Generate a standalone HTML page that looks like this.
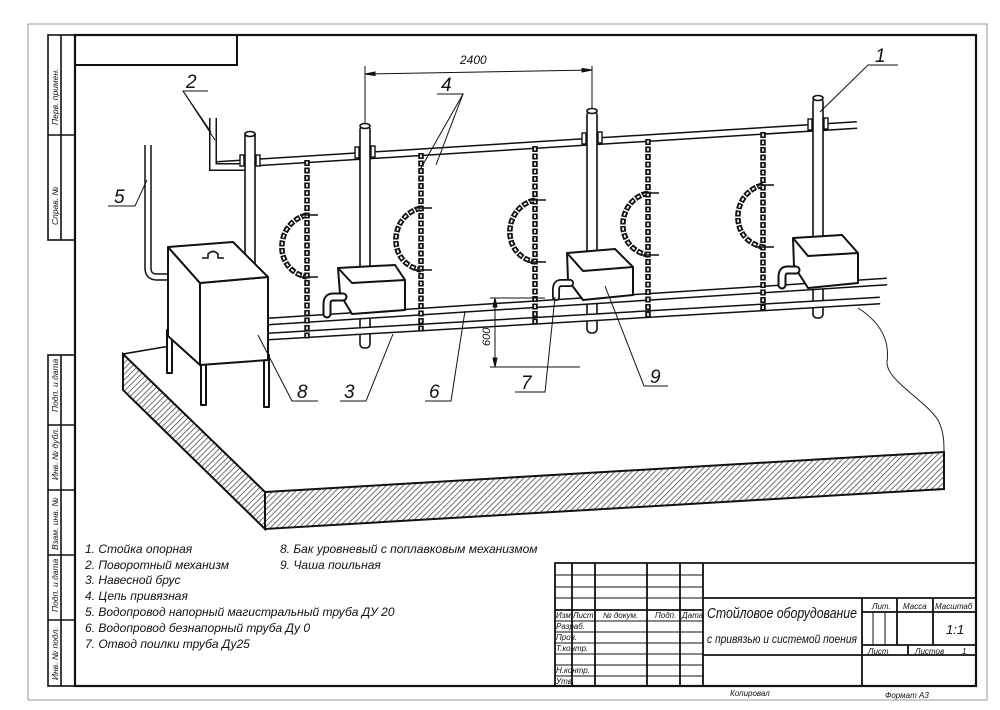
<!DOCTYPE html>
<html><head><meta charset="utf-8"><style>
html,body{margin:0;padding:0;background:#fff}
svg{display:block}
text{font-family:"Liberation Sans","DejaVu Sans",sans-serif;font-style:italic;fill:#111}
</style></head><body>
<svg width="1000" height="710" viewBox="0 0 1000 710" xmlns="http://www.w3.org/2000/svg">
<defs>
<pattern id="h" width="4" height="4" patternUnits="userSpaceOnUse" patternTransform="rotate(45)">
<rect width="4" height="4" fill="#fff"/><line x1="0" y1="0" x2="0" y2="4" stroke="#444" stroke-width="1.5"/>
</pattern>
</defs>
<rect x="0" y="0" width="1000" height="710" fill="#fff"/>
<rect x="28" y="24" width="959" height="676" fill="none" stroke="#999" stroke-width="1"/>
<rect x="75" y="35" width="901" height="651" fill="none" stroke="#111" stroke-width="2.2"/>
<polyline points="75,65 237,65 237,35" fill="none" stroke="#111" stroke-width="2"/>
<g stroke="#111" stroke-width="1.6" fill="none">
<rect x="48" y="35" width="27" height="205"/>
<line x1="61" y1="35" x2="61" y2="240"/>
<line x1="48" y1="135" x2="75" y2="135"/>
<rect x="48" y="355" width="27" height="331"/>
<line x1="61" y1="355" x2="61" y2="686"/>
<line x1="48" y1="425" x2="75" y2="425"/>
<line x1="48" y1="490" x2="75" y2="490"/>
<line x1="48" y1="555" x2="75" y2="555"/>
<line x1="48" y1="620" x2="75" y2="620"/>
</g>
<g font-size="8.5">
<text transform="translate(58,125) rotate(-90)">Перв. примен.</text>
<text transform="translate(58,225) rotate(-90)">Справ. №</text>
<text transform="translate(58,412) rotate(-90)">Подп. и дата</text>
<text transform="translate(58,480) rotate(-90)">Инв. № дубл.</text>
<text transform="translate(58,550) rotate(-90)">Взам. инв. №</text>
<text transform="translate(58,612) rotate(-90)">Подп. и дата</text>
<text transform="translate(58,680) rotate(-90)">Инв. № подл.</text>
</g>

<polygon points="123,354 123,390 265,529 265,492" fill="url(#h)" stroke="#111" stroke-width="2"/>
<polygon points="265,492 944,452 944,489 265,529" fill="url(#h)" stroke="#111" stroke-width="2"/>
<polyline points="123,354 170,346" fill="none" stroke="#111" stroke-width="1.6"/>
<line x1="123" y1="354" x2="265" y2="492" stroke="#111" stroke-width="1.6"/>
<path d="M858,308 C880,322 890,340 887,362 C886,380 925,400 938,420 C944,432 944,442 944,452" fill="none" stroke="#222" stroke-width="1"/>

<line x1="213" y1="165.2" x2="857" y2="125" stroke="#111" stroke-width="8"/>
<line x1="213" y1="165.2" x2="857" y2="125" stroke="#fff" stroke-width="5"/>
<path d="M148,145 V268 Q148,277 157,277 H180" fill="none" stroke="#111" stroke-width="7.5"/>
<path d="M148,145 V268 Q148,277 157,277 H180" fill="none" stroke="#fff" stroke-width="4.5"/>
<path d="M213,118 V167 H248" fill="none" stroke="#111" stroke-width="8"/>
<path d="M213,118 V167 H248" fill="none" stroke="#fff" stroke-width="5"/>

<g stroke="#111" stroke-width="1.6" fill="#fff">
<rect x="245" y="134" width="10" height="130"/><ellipse cx="250" cy="134" rx="5" ry="2.5"/>
<rect x="360" y="126" width="10" height="222" rx="4"/><ellipse cx="365" cy="126" rx="5" ry="2.5"/>
<rect x="587" y="111" width="10" height="222" rx="4"/><ellipse cx="592" cy="111" rx="5" ry="2.5"/>
<rect x="813" y="98" width="10" height="220" rx="4"/><ellipse cx="818" cy="98" rx="5" ry="2.5"/>
</g>
<g stroke="#111" stroke-width="1.4" fill="#fff">
<rect x="240" y="155" width="4" height="11"/><rect x="256" y="155" width="4" height="11"/>
<rect x="355" y="147" width="4" height="11"/><rect x="371" y="146" width="4" height="11"/>
<rect x="582" y="133" width="4" height="11"/><rect x="598" y="132" width="4" height="11"/>
<rect x="808" y="119" width="4" height="11"/><rect x="824" y="118" width="4" height="11"/>
</g>

<line x1="268" y1="321.5" x2="887" y2="281.5" stroke="#111" stroke-width="8"/>
<line x1="268" y1="321.5" x2="887" y2="281.5" stroke="#fff" stroke-width="5"/>
<line x1="268" y1="336.5" x2="880" y2="300.5" stroke="#111" stroke-width="8"/>
<line x1="268" y1="336.5" x2="880" y2="300.5" stroke="#fff" stroke-width="5"/>

<g fill="none">
<g stroke="#111" stroke-width="5.5" stroke-dasharray="6 1.5">
<line x1="307" y1="160" x2="307" y2="339"/>
<line x1="421" y1="153" x2="421" y2="332"/>
<line x1="535" y1="146" x2="535" y2="325"/>
<line x1="648" y1="139" x2="648" y2="318"/>
<line x1="763" y1="132" x2="763" y2="312"/>
<path d="M307,215 C275,222 272,270 307,277"/>
<path d="M421,208 C389,215 386,263 421,270"/>
<path d="M535,200 C503,207 500,255 535,262"/>
<path d="M648,193 C616,200 613,248 648,255"/>
<path d="M763,185 C731,192 728,240 763,247"/>
</g>
<g stroke="#fff" stroke-width="1.7" stroke-dasharray="3 4.5" stroke-dashoffset="-1.5">
<line x1="307" y1="160" x2="307" y2="339"/>
<line x1="421" y1="153" x2="421" y2="332"/>
<line x1="535" y1="146" x2="535" y2="325"/>
<line x1="648" y1="139" x2="648" y2="318"/>
<line x1="763" y1="132" x2="763" y2="312"/>
<path d="M307,215 C275,222 272,270 307,277"/>
<path d="M421,208 C389,215 386,263 421,270"/>
<path d="M535,200 C503,207 500,255 535,262"/>
<path d="M648,193 C616,200 613,248 648,255"/>
<path d="M763,185 C731,192 728,240 763,247"/>
</g>
<g stroke="#111" stroke-width="1.4">
<line x1="300" y1="215" x2="318" y2="215"/><line x1="300" y1="277" x2="318" y2="277"/>
<line x1="414" y1="208" x2="432" y2="208"/><line x1="414" y1="270" x2="432" y2="270"/>
<line x1="528" y1="200" x2="546" y2="200"/><line x1="528" y1="262" x2="546" y2="262"/>
<line x1="641" y1="193" x2="659" y2="193"/><line x1="641" y1="255" x2="659" y2="255"/>
<line x1="756" y1="185" x2="774" y2="185"/><line x1="756" y1="247" x2="774" y2="247"/>
</g>
</g>

<g stroke="#111" stroke-width="2" fill="#fff" stroke-linejoin="round">
<path d="M338,268 L395,265 L405,280 L405,310 L352,314 L340,294 Z"/><path d="M338,268 L352,283 L405,280" fill="none"/>
<path d="M567,253 L615,249 L633,267 L633,295 L583,300 L568,280 Z"/><path d="M567,253 L583,271 L633,267" fill="none"/>
<path d="M793,238 L842,235 L858,253 L858,283 L808,288 L794,266 Z"/><path d="M793,238 L808,256 L858,253" fill="none"/>
</g>
<g fill="none">
<path d="M343,297 H333 Q327,297 327,304 V314" stroke="#111" stroke-width="9" stroke-linecap="round"/>
<path d="M343,297 H333 Q327,297 327,304 V314" stroke="#fff" stroke-width="5" stroke-linecap="round"/>
<path d="M570,283 H561 Q556,283 556,290 V297" stroke="#111" stroke-width="8" stroke-linecap="round"/>
<path d="M570,283 H561 Q556,283 556,290 V297" stroke="#fff" stroke-width="4.5" stroke-linecap="round"/>
<path d="M796,270 H787 Q782,270 782,277 V285" stroke="#111" stroke-width="9" stroke-linecap="round"/>
<path d="M796,270 H787 Q782,270 782,277 V285" stroke="#fff" stroke-width="5" stroke-linecap="round"/>
</g>

<g stroke="#111" stroke-width="2" fill="#fff" stroke-linejoin="round">
<rect x="167" y="330" width="5" height="43"/>
<rect x="201" y="360" width="5" height="45"/>
<rect x="264" y="355" width="5" height="52"/>
<polygon points="168,247 200,283 200,365 168,336"/>
<polygon points="200,283 268,277 268,360 200,365"/>
<polygon points="168,247 233,242 268,277 200,283"/>
<path d="M202,258 H208 V254 Q213,249 218,254 V258 H224" fill="none" stroke-width="1.6"/>
</g>

<g stroke="#111" stroke-width="1" fill="#111">
<line x1="365" y1="66" x2="365" y2="124"/>
<line x1="592" y1="66" x2="592" y2="109"/>
<line x1="365" y1="74" x2="592" y2="70"/>
<polygon points="365,74 375,72 375,75.5"/>
<polygon points="592,70 582,68.5 582,72"/>
</g>
<text x="460" y="64" font-size="12">2400</text>
<g stroke="#111" stroke-width="1" fill="#111">
<line x1="490" y1="298" x2="545" y2="298"/>
<line x1="490" y1="367" x2="580" y2="367"/>
<line x1="495" y1="298" x2="495" y2="367"/>
<polygon points="495,298 493,307 497,307"/>
<polygon points="495,367 493,358 497,358"/>
</g>
<text transform="translate(490,346) rotate(-90)" font-size="11">600</text>

<g stroke="#111" stroke-width="1" fill="none">
<polyline points="208,91 183,91 211,132"/><line x1="183" y1="91" x2="215" y2="140"/>
<polyline points="108,206 135,206 147,180"/>
<polyline points="437,94 463,94 421,168"/><line x1="463" y1="94" x2="436" y2="165"/>
<polyline points="898,65 868,65 820,112"/>
<polyline points="318,401 292,401 258,335"/>
<polyline points="340,401 366,401 393,334"/>
<polyline points="425,401 451,401 465,311"/>
<polyline points="515,392 545,392 555,297"/>
<polyline points="668,386 644,386 605,286"/>
</g>
<g font-size="19">
<text x="186" y="88">2</text>
<text x="114" y="203">5</text>
<text x="441" y="91">4</text>
<text x="875" y="62">1</text>
<text x="297" y="398">8</text>
<text x="344" y="398">3</text>
<text x="429" y="398">6</text>
<text x="521" y="389">7</text>
<text x="650" y="383">9</text>
</g>

<g font-size="12">
<text x="85" y="553">1. Стойка опорная</text>
<text x="85" y="569">2. Поворотный механизм</text>
<text x="85" y="584">3. Навесной брус</text>
<text x="85" y="600">4. Цепь привязная</text>
<text x="85" y="616">5. Водопровод напорный магистральный труба ДУ 20</text>
<text x="85" y="632">6. Водопровод безнапорный  труба Ду  0</text>
<text x="85" y="648">7. Отвод поилки труба Ду25</text>
<text x="280" y="553">8. Бак уровневый с поплавковым механизмом</text>
<text x="280" y="569">9. Чаша поильная</text>
</g>

<g stroke="#111" stroke-width="1.8" fill="none">
<polyline points="555,686 555,563 976,563"/>
<line x1="572" y1="563" x2="572" y2="686"/>
<line x1="595" y1="563" x2="595" y2="686"/>
<line x1="647" y1="563" x2="647" y2="686"/>
<line x1="680" y1="563" x2="680" y2="686"/>
<line x1="703" y1="563" x2="703" y2="686"/>
<line x1="703" y1="598" x2="976" y2="598"/>
<line x1="703" y1="655" x2="976" y2="655"/>
<line x1="862" y1="598" x2="862" y2="686"/>
<line x1="862" y1="612" x2="976" y2="612"/>
<line x1="862" y1="645" x2="976" y2="645"/>
<line x1="897" y1="598" x2="897" y2="645"/>
<line x1="933" y1="598" x2="933" y2="645"/>
<line x1="908" y1="645" x2="908" y2="655"/>
<line x1="555" y1="610" x2="703" y2="610"/>
</g>
<g stroke="#111" stroke-width="1" fill="none">
<line x1="555" y1="575" x2="703" y2="575"/>
<line x1="555" y1="587" x2="703" y2="587"/>
<line x1="555" y1="598" x2="703" y2="598"/>
<line x1="555" y1="621" x2="703" y2="621"/>
<line x1="555" y1="632" x2="703" y2="632"/>
<line x1="555" y1="643" x2="703" y2="643"/>
<line x1="555" y1="654" x2="703" y2="654"/>
<line x1="555" y1="665" x2="703" y2="665"/>
<line x1="555" y1="676" x2="703" y2="676"/>
<line x1="873" y1="612" x2="873" y2="645"/>
<line x1="885" y1="612" x2="885" y2="645"/>
</g>
<g font-size="8">
<text x="556" y="618">Изм</text><text x="573" y="618">Лист</text><text x="603" y="618">№ докум.</text><text x="655" y="618">Подп.</text><text x="682" y="618">Дата</text>
<text x="556" y="629">Разраб.</text>
<text x="556" y="640">Пров.</text>
<text x="556" y="651">Т.контр.</text>
<text x="556" y="673">Н.контр.</text>
<text x="556" y="684">Утв.</text>
<text x="872" y="609">Лит.</text><text x="903" y="609">Масса</text><text x="935" y="609">Масштаб</text>
<text x="868" y="654">Лист</text><text x="915" y="654">Листов</text><text x="962" y="654">1</text>
<text x="730" y="696">Копировал</text>
<text x="885" y="698">Формат   А3</text>
</g>
<text x="946" y="634" font-size="13">1:1</text>
<text x="707" y="618" font-size="14.5" textLength="150" lengthAdjust="spacingAndGlyphs">Стойловое оборудование</text>
<text x="707" y="643" font-size="12" textLength="150" lengthAdjust="spacingAndGlyphs">с привязью и системой поения</text>
</svg>
</body></html>
